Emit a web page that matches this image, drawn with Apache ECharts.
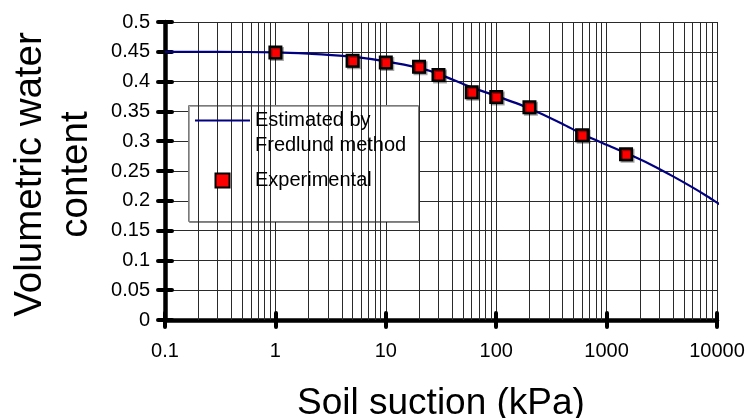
<!DOCTYPE html>
<html>
<head>
<meta charset="utf-8">
<script src="https://cdn.jsdelivr.net/npm/echarts@6/dist/echarts.min.js"></script>
<style>
  html, body { margin: 0; padding: 0; background: #fff; }
  #chart { width: 747px; height: 418px; }
</style>
</head>
<body>
<div id="chart"></div>
<script>
// Soil-water characteristic curve: volumetric water content vs. soil suction
const FONT = '"Liberation Sans", Arial, Helvetica, sans-serif';

// Estimated curve (Fredlund method)
const curveSuction = [0.1, 0.3, 1, 2, 3, 5, 10, 20, 30, 60, 100, 200, 400, 600, 1000, 1500, 2500, 4000, 6000, 8000, 10000, 11700];
const curveTheta   = [0.450, 0.450, 0.449, 0.447, 0.445, 0.442, 0.434, 0.423, 0.413, 0.390, 0.376, 0.355, 0.329, 0.312, 0.294, 0.280, 0.261, 0.241, 0.2225, 0.2085, 0.197, 0.189];

// Laboratory measurements
const measuredSuction = [1, 5, 10, 20, 30, 60, 100, 200, 600, 1500];
const measuredTheta   = [0.449, 0.435, 0.432, 0.425, 0.411, 0.382, 0.374, 0.357, 0.310, 0.278];

// Axis ticks
const xTickLabels = ['0.1', '1', '10', '100', '1000', '10000'];
const xDecades = [0.1, 1, 10, 100, 1000];
const minorMultipliers = [2, 3, 4, 5, 6, 7, 8, 9];

const seriesNames = ['\nEstimated by\nFredlund method', 'Experimental'];

const minorGrid = [];
xDecades.forEach(d => minorMultipliers.forEach(m => minorGrid.push({ xAxis: +(d * m).toPrecision(3) })));

const GRID_COLOR = '#2a2a2a';
const xRange = { min: 0.1, max: 10000 };
const yRange = { min: 0, max: 0.5, interval: 0.05 };

const axisLine = () => ({ show: true, onZero: false, lineStyle: { color: '#000', width: 4.5 } });
const axisTick = () => ({ show: true, inside: false, length: 7, lineStyle: { color: '#000', width: 4, cap: 'round' } });

const chart = echarts.init(document.getElementById('chart'), null, { renderer: 'canvas' });

chart.setOption({
  animation: false,
  backgroundColor: '#fff',
  textStyle: { fontFamily: FONT },
  grid: { left: 165, top: 22, width: 552, height: 298, containLabel: false, outerBoundsMode: 'none' },
  xAxis: [
    {
      type: 'log', logBase: 10, min: xRange.min, max: xRange.max,
      position: 'bottom',
      name: 'Soil suction (kPa)', nameLocation: 'middle', nameGap: 65,
      nameTextStyle: { fontSize: 37, color: '#000', fontFamily: FONT },
      axisLine: axisLine(),
      axisTick: axisTick(),
      axisLabel: { fontSize: 20, color: '#000', margin: 21, fontFamily: FONT,
                   formatter: (v, i) => xTickLabels[i] },
      splitLine: { show: true, lineStyle: { color: GRID_COLOR, width: 1 } },
      minorTick: { show: false }, minorSplitLine: { show: false }
    },
    {
      // second set of decade ticks pointing into the plot
      type: 'log', logBase: 10, min: xRange.min, max: xRange.max,
      position: 'top', offset: -298,
      axisLine: { show: false, onZero: false },
      axisTick: axisTick(),
      axisLabel: { show: false },
      splitLine: { show: false }
    }
  ],
  yAxis: [
    {
      type: 'value', min: yRange.min, max: yRange.max, interval: yRange.interval,
      position: 'left',
      name: 'Volumetric water\ncontent', nameLocation: 'middle', nameGap: 66, nameRotate: 90,
      nameTextStyle: { fontSize: 38.5, lineHeight: 46, color: '#000', fontFamily: FONT, align: 'center',
                       padding: [0, 7, 0, 0] },
      axisLine: axisLine(),
      axisTick: axisTick(),
      axisLabel: { fontSize: 20, color: '#000', margin: 15, fontFamily: FONT },
      splitLine: { show: true, lineStyle: { color: GRID_COLOR, width: 1 } }
    },
    {
      // second set of ticks pointing into the plot
      type: 'value', min: yRange.min, max: yRange.max, interval: yRange.interval,
      position: 'right', offset: -552,
      axisLine: { show: false, onZero: false },
      axisTick: axisTick(),
      axisLabel: { show: false },
      splitLine: { show: false }
    }
  ],
  legend: {
    orient: 'vertical',
    left: 195, top: 83,
    padding: 0,
    itemWidth: 55, itemHeight: 14, itemGap: 10,
    z: 10,
    textStyle: { fontSize: 20, lineHeight: 25, color: '#000', fontFamily: FONT },
    data: [
      { name: seriesNames[0], icon: 'path://M0,0L55,0L55,2.2L0,2.2Z' },
      { name: seriesNames[1], icon: 'path://M0,0L11.5,0L11.5,11.5L0,11.5Z' }
    ]
  },
  graphic: [
    {
      // legend frame
      type: 'rect', z: 5,
      shape: { x: 188.5, y: 105.5, width: 230, height: 116 },
      style: { fill: '#fff', stroke: '#7a7a7a', lineWidth: 1,
               shadowColor: 'rgba(0,0,0,0.35)', shadowOffsetX: 1, shadowOffsetY: 1, shadowBlur: 0 }
    }
  ],
  series: [
    {
      // log-cycle minor grid lines
      type: 'line', data: [], z: 1, silent: true, xAxisIndex: 0, yAxisIndex: 0,
      markLine: {
        silent: true, symbol: ['none', 'none'], animation: false,
        label: { show: false },
        lineStyle: { color: GRID_COLOR, width: 1, type: 'solid' },
        emphasis: { disabled: true },
        data: minorGrid
      }
    },
    {
      name: seriesNames[0],
      type: 'line', z: 6, clip: false,
      xAxisIndex: 0, yAxisIndex: 0,
      data: curveSuction.map((s, i) => [s, curveTheta[i]]),
      symbol: 'none', smooth: 0.2,
      lineStyle: { color: '#000080', width: 2.2 },
      itemStyle: { color: '#000080' }
    },
    {
      name: seriesNames[1],
      type: 'scatter', z: 7,
      xAxisIndex: 0, yAxisIndex: 0,
      data: measuredSuction.map((s, i) => [s, measuredTheta[i]]),
      symbol: 'rect', symbolSize: 11.5,
      itemStyle: { color: '#ff0000', borderColor: '#000', borderWidth: 2.5, opacity: 1,
                   shadowColor: 'rgba(0,0,0,0.35)', shadowOffsetX: 1.5, shadowOffsetY: 1.5, shadowBlur: 0 }
    }
  ]
});
</script>
</body>
</html>
